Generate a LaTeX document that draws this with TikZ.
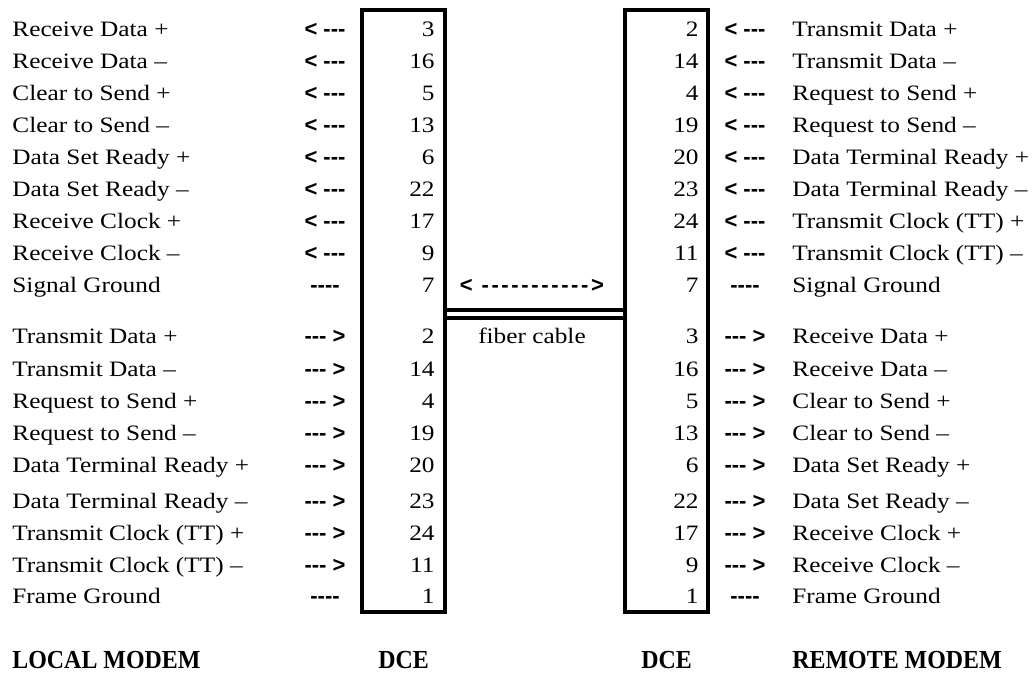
\documentclass[tikz,border=0pt]{standalone}
\usepackage{fontspec}
\setmainfont{Liberation Serif}[FakeStretch=1.15]
\newfontfamily\arrowfont{Liberation Sans}[Ligatures=TeXOff]
\newfontfamily\cablefont{Liberation Sans}[Ligatures=TeXOff,LetterSpace=12]
\newfontfamily\headfont{Liberation Serif}[FakeStretch=0.92]
\usepackage{tikz}

\begin{document}
\begin{tikzpicture}[x=0.5pt, y=-0.5pt,
    sigtxt/.style={anchor=base west, inner sep=0pt, font=\fontsize{11}{13}\selectfont},
    pinnum/.style={anchor=base east, inner sep=0pt, font=\fontsize{11}{13}\selectfont},
    dirtxt/.style={anchor=base, inner sep=0pt, font=\arrowfont\bfseries\fontsize{11}{13}\selectfont},
    dcebox/.style={draw, line width=2pt, minimum width=41.5pt, minimum height=301pt, inner sep=0pt},
    heading/.style={anchor=base, inner sep=0pt, font=\headfont\bfseries\fontsize{13}{15}\selectfont}
]
\useasboundingbox (0,0) rectangle (1034,675);

% the two DCE connectors and the fiber between them
\node[dcebox] (ldce) at (403.5,311) {};
\node[dcebox] (rdce) at (666.5,311) {};
\coordinate (cable) at (535,314);
\draw[line width=2pt, double, double distance=1.75pt] (ldce.east |- cable) -- (rdce.west |- cable);
\node[dirtxt, font=\cablefont\bfseries\fontsize{11}{13}\selectfont] (cablearrow) at (532,292) {< ----------->};
\node[sigtxt, anchor=base] (cablename) at (532,343) {fiber cable};

% remote to local
\node[sigtxt] (l1) at (12,36) {Receive Data +};
\node[dirtxt] (la1) at (325,36) {< ---};
\node[pinnum] (lp1) at (435,36) {3};
\node[pinnum] (rp1) at (699,36) {2};
\node[dirtxt] (ra1) at (745,36) {< ---};
\node[sigtxt] (r1) at (792,36) {Transmit Data +};

\node[sigtxt] (l2) at (12,68) {Receive Data –};
\node[dirtxt] (la2) at (325,68) {< ---};
\node[pinnum] (lp2) at (435,68) {16};
\node[pinnum] (rp2) at (699,68) {14};
\node[dirtxt] (ra2) at (745,68) {< ---};
\node[sigtxt] (r2) at (792,68) {Transmit Data –};

\node[sigtxt] (l3) at (12,100) {Clear to Send +};
\node[dirtxt] (la3) at (325,100) {< ---};
\node[pinnum] (lp3) at (435,100) {5};
\node[pinnum] (rp3) at (699,100) {4};
\node[dirtxt] (ra3) at (745,100) {< ---};
\node[sigtxt] (r3) at (792,100) {Request to Send +};

\node[sigtxt] (l4) at (12,132) {Clear to Send –};
\node[dirtxt] (la4) at (325,132) {< ---};
\node[pinnum] (lp4) at (435,132) {13};
\node[pinnum] (rp4) at (699,132) {19};
\node[dirtxt] (ra4) at (745,132) {< ---};
\node[sigtxt] (r4) at (792,132) {Request to Send –};

\node[sigtxt] (l5) at (12,164) {Data Set Ready +};
\node[dirtxt] (la5) at (325,164) {< ---};
\node[pinnum] (lp5) at (435,164) {6};
\node[pinnum] (rp5) at (699,164) {20};
\node[dirtxt] (ra5) at (745,164) {< ---};
\node[sigtxt] (r5) at (792,164) {Data Terminal Ready +};

\node[sigtxt] (l6) at (12,196) {Data Set Ready –};
\node[dirtxt] (la6) at (325,196) {< ---};
\node[pinnum] (lp6) at (435,196) {22};
\node[pinnum] (rp6) at (699,196) {23};
\node[dirtxt] (ra6) at (745,196) {< ---};
\node[sigtxt] (r6) at (792,196) {Data Terminal Ready –};

\node[sigtxt] (l7) at (12,228) {Receive Clock +};
\node[dirtxt] (la7) at (325,228) {< ---};
\node[pinnum] (lp7) at (435,228) {17};
\node[pinnum] (rp7) at (699,228) {24};
\node[dirtxt] (ra7) at (745,228) {< ---};
\node[sigtxt] (r7) at (792,228) {Transmit Clock (TT) +};

\node[sigtxt] (l8) at (12,260) {Receive Clock –};
\node[dirtxt] (la8) at (325,260) {< ---};
\node[pinnum] (lp8) at (435,260) {9};
\node[pinnum] (rp8) at (699,260) {11};
\node[dirtxt] (ra8) at (745,260) {< ---};
\node[sigtxt] (r8) at (792,260) {Transmit Clock (TT) –};

\node[sigtxt] (l9) at (12,292) {Signal Ground};
\node[dirtxt] (la9) at (325,292) {----};
\node[pinnum] (lp9) at (435,292) {7};
\node[pinnum] (rp9) at (699,292) {7};
\node[dirtxt] (ra9) at (745,292) {----};
\node[sigtxt] (r9) at (792,292) {Signal Ground};

% local to remote
\node[sigtxt] (l10) at (12,343) {Transmit Data +};
\node[dirtxt] (la10) at (325,343) {--- >};
\node[pinnum] (lp10) at (435,343) {2};
\node[pinnum] (rp10) at (699,343) {3};
\node[dirtxt] (ra10) at (745,343) {--- >};
\node[sigtxt] (r10) at (792,343) {Receive Data +};

\node[sigtxt] (l11) at (12,376) {Transmit Data –};
\node[dirtxt] (la11) at (325,376) {--- >};
\node[pinnum] (lp11) at (435,376) {14};
\node[pinnum] (rp11) at (699,376) {16};
\node[dirtxt] (ra11) at (745,376) {--- >};
\node[sigtxt] (r11) at (792,376) {Receive Data –};

\node[sigtxt] (l12) at (12,408) {Request to Send +};
\node[dirtxt] (la12) at (325,408) {--- >};
\node[pinnum] (lp12) at (435,408) {4};
\node[pinnum] (rp12) at (699,408) {5};
\node[dirtxt] (ra12) at (745,408) {--- >};
\node[sigtxt] (r12) at (792,408) {Clear to Send +};

\node[sigtxt] (l13) at (12,440) {Request to Send –};
\node[dirtxt] (la13) at (325,440) {--- >};
\node[pinnum] (lp13) at (435,440) {19};
\node[pinnum] (rp13) at (699,440) {13};
\node[dirtxt] (ra13) at (745,440) {--- >};
\node[sigtxt] (r13) at (792,440) {Clear to Send –};

\node[sigtxt] (l14) at (12,472) {Data Terminal Ready +};
\node[dirtxt] (la14) at (325,472) {--- >};
\node[pinnum] (lp14) at (435,472) {20};
\node[pinnum] (rp14) at (699,472) {6};
\node[dirtxt] (ra14) at (745,472) {--- >};
\node[sigtxt] (r14) at (792,472) {Data Set Ready +};

\node[sigtxt] (l15) at (12,508) {Data Terminal Ready –};
\node[dirtxt] (la15) at (325,508) {--- >};
\node[pinnum] (lp15) at (435,508) {23};
\node[pinnum] (rp15) at (699,508) {22};
\node[dirtxt] (ra15) at (745,508) {--- >};
\node[sigtxt] (r15) at (792,508) {Data Set Ready –};

\node[sigtxt] (l16) at (12,540) {Transmit Clock (TT) +};
\node[dirtxt] (la16) at (325,540) {--- >};
\node[pinnum] (lp16) at (435,540) {24};
\node[pinnum] (rp16) at (699,540) {17};
\node[dirtxt] (ra16) at (745,540) {--- >};
\node[sigtxt] (r16) at (792,540) {Receive Clock +};

\node[sigtxt] (l17) at (12,572) {Transmit Clock (TT) –};
\node[dirtxt] (la17) at (325,572) {--- >};
\node[pinnum] (lp17) at (435,572) {11};
\node[pinnum] (rp17) at (699,572) {9};
\node[dirtxt] (ra17) at (745,572) {--- >};
\node[sigtxt] (r17) at (792,572) {Receive Clock –};

\node[sigtxt] (l18) at (12,603) {Frame Ground};
\node[dirtxt] (la18) at (325,603) {----};
\node[pinnum] (lp18) at (435,603) {1};
\node[pinnum] (rp18) at (699,603) {1};
\node[dirtxt] (ra18) at (745,603) {----};
\node[sigtxt] (r18) at (792,603) {Frame Ground};

% captions
\node[heading, anchor=base west] (lmodem) at (12,668) {LOCAL MODEM};
\node[heading] (ldcename) at (403.5,668) {DCE};
\node[heading] (rdcename) at (666.5,668) {DCE};
\node[heading, anchor=base west] (rmodem) at (792,668) {REMOTE MODEM};
\end{tikzpicture}
\end{document}
